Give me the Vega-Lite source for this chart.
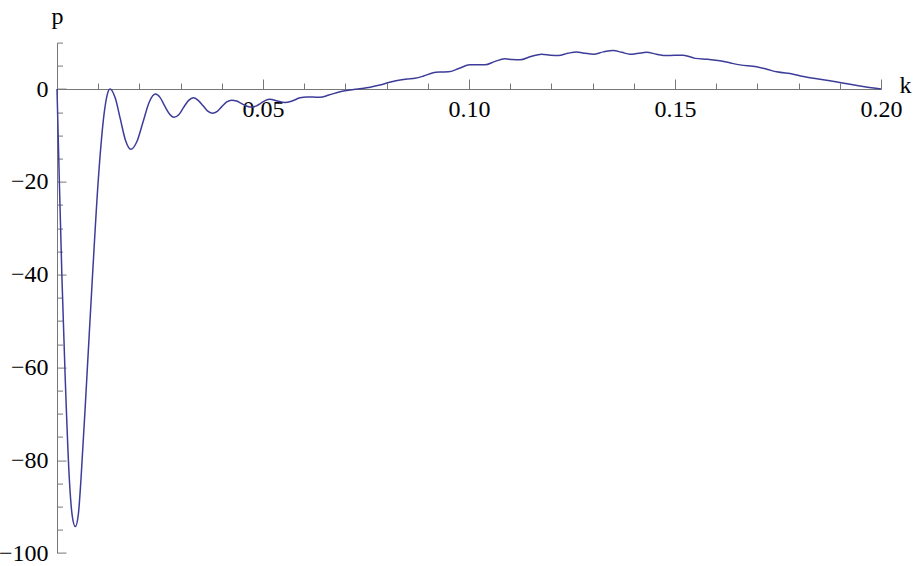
{
  "$schema": "https://vega.github.io/schema/vega-lite/v6.json",
  "width": 824,
  "height": 510.4,
  "autosize": {"type": "none"},
  "padding": {"left": 57, "top": 42.6, "right": 32, "bottom": 13},
  "background": "white",
  "config": {
    "view": {"stroke": null},
    "axis": {
      "grid": false,
      "labelFont": "Liberation Serif",
      "titleFont": "Liberation Serif",
      "labelFontSize": 24,
      "titleFontSize": 24,
      "labelColor": "black",
      "titleColor": "black",
      "titleFontWeight": "normal",
      "domainColor": "#777777",
      "tickColor": "#777777",
      "domainWidth": 1,
      "tickWidth": 1,
      "labelOverlap": false,
      "labelFlush": false
    }
  },
  "data": {
    "values": [
      {"k": 0, "p": 0},
      {"k": 0.00056, "p": -19.6},
      {"k": 0.00121, "p": -41},
      {"k": 0.00201, "p": -62.7},
      {"k": 0.00299, "p": -84},
      {"k": 0.0037, "p": -92},
      {"k": 0.00444, "p": -94.3},
      {"k": 0.0052, "p": -91.5},
      {"k": 0.00583, "p": -84},
      {"k": 0.00721, "p": -62.7},
      {"k": 0.00857, "p": -41},
      {"k": 0.01002, "p": -19.6},
      {"k": 0.01148, "p": -5},
      {"k": 0.0122, "p": -1.2},
      {"k": 0.01286, "p": 0},
      {"k": 0.01412, "p": -1.9},
      {"k": 0.01538, "p": -6.5},
      {"k": 0.01664, "p": -11.1},
      {"k": 0.0179, "p": -13},
      {"k": 0.0194, "p": -11.3},
      {"k": 0.0209, "p": -7.05},
      {"k": 0.0224, "p": -2.8},
      {"k": 0.0239, "p": -1.1},
      {"k": 0.025, "p": -1.8},
      {"k": 0.0261, "p": -3.6},
      {"k": 0.0273, "p": -5.4},
      {"k": 0.0284, "p": -6.1},
      {"k": 0.0296, "p": -5.5},
      {"k": 0.0307, "p": -4.0},
      {"k": 0.0319, "p": -2.5},
      {"k": 0.0331, "p": -1.9},
      {"k": 0.0342, "p": -2.4},
      {"k": 0.0354, "p": -3.55},
      {"k": 0.0365, "p": -4.7},
      {"k": 0.0377, "p": -5.2},
      {"k": 0.0389, "p": -4.8},
      {"k": 0.04, "p": -3.8},
      {"k": 0.0412, "p": -2.8},
      {"k": 0.0424, "p": -2.4},
      {"k": 0.0436, "p": -2.6},
      {"k": 0.0448, "p": -3.15},
      {"k": 0.0461, "p": -3.7},
      {"k": 0.0473, "p": -3.9},
      {"k": 0.0484, "p": -3.65},
      {"k": 0.0495, "p": -3.05},
      {"k": 0.0506, "p": -2.45},
      {"k": 0.0517, "p": -2.2},
      {"k": 0.0535, "p": -2.6},
      {"k": 0.0553, "p": -2.9},
      {"k": 0.057, "p": -2.6},
      {"k": 0.059, "p": -1.9},
      {"k": 0.0606, "p": -1.7},
      {"k": 0.0622, "p": -1.75},
      {"k": 0.0638, "p": -1.8},
      {"k": 0.066, "p": -1.3},
      {"k": 0.0687, "p": -0.6},
      {"k": 0.0731, "p": 0},
      {"k": 0.076, "p": 0.4},
      {"k": 0.0784, "p": 0.86},
      {"k": 0.081, "p": 1.5},
      {"k": 0.0833, "p": 1.94},
      {"k": 0.085, "p": 2.15},
      {"k": 0.0869, "p": 2.3},
      {"k": 0.089, "p": 2.8},
      {"k": 0.0913, "p": 3.5},
      {"k": 0.093, "p": 3.65},
      {"k": 0.095, "p": 3.7},
      {"k": 0.0975, "p": 4.4},
      {"k": 0.1002, "p": 5.2},
      {"k": 0.102, "p": 5.2},
      {"k": 0.1039, "p": 5.2},
      {"k": 0.1062, "p": 5.9},
      {"k": 0.1087, "p": 6.5},
      {"k": 0.1105, "p": 6.35},
      {"k": 0.1124, "p": 6.3},
      {"k": 0.115, "p": 7.0},
      {"k": 0.1176, "p": 7.5},
      {"k": 0.1197, "p": 7.3},
      {"k": 0.1217, "p": 7.2},
      {"k": 0.124, "p": 7.7},
      {"k": 0.1261, "p": 8.0},
      {"k": 0.1282, "p": 7.7},
      {"k": 0.1302, "p": 7.5},
      {"k": 0.1326, "p": 8.0},
      {"k": 0.135, "p": 8.3},
      {"k": 0.1371, "p": 7.9},
      {"k": 0.1391, "p": 7.5},
      {"k": 0.1411, "p": 7.7},
      {"k": 0.1431, "p": 7.9},
      {"k": 0.1455, "p": 7.5},
      {"k": 0.148, "p": 7.2},
      {"k": 0.152, "p": 7.3},
      {"k": 0.1549, "p": 6.6},
      {"k": 0.158, "p": 6.4},
      {"k": 0.1609, "p": 6.1},
      {"k": 0.1635, "p": 5.6},
      {"k": 0.1658, "p": 5.2},
      {"k": 0.1698, "p": 4.8},
      {"k": 0.1725, "p": 4.2},
      {"k": 0.1747, "p": 3.7},
      {"k": 0.1787, "p": 3.2},
      {"k": 0.1812, "p": 2.7},
      {"k": 0.1836, "p": 2.3},
      {"k": 0.1876, "p": 1.8},
      {"k": 0.19, "p": 1.4},
      {"k": 0.1925, "p": 1.0},
      {"k": 0.196, "p": 0.5},
      {"k": 0.2, "p": 0}
    ]
  },
  "mark": {"type": "line", "color": "#3d3d99", "strokeWidth": 1.5, "interpolate": "monotone", "clip": false},
  "encoding": {
    "x": {
      "field": "k",
      "type": "quantitative",
      "scale": {"domain": [0, 0.2], "nice": false, "zero": false},
      "axis": {
        "orient": "bottom",
        "offset": -464,
        "values": [0.01, 0.02, 0.03, 0.04, 0.05, 0.06, 0.07, 0.08, 0.09, 0.1, 0.11, 0.12, 0.13, 0.14, 0.15, 0.16, 0.17, 0.18, 0.19, 0.2],
        "labelExpr": "abs(datum.value * 20 - round(datum.value * 20)) < 0.001 ? format(datum.value, '.2f') : ''",
        "tickSize": {"condition": {"test": "abs(datum.value * 20 - round(datum.value * 20)) < 0.001", "value": -10}, "value": -6},
        "labelPadding": 18.5,
        "title": "k",
        "titleAngle": 0,
        "titleAlign": "center",
        "titleBaseline": "alphabetic",
        "titleX": 848,
        "titleY": 3
      }
    },
    "y": {
      "field": "p",
      "type": "quantitative",
      "scale": {"domain": [-100, 10], "nice": false, "zero": false},
      "axis": {
        "orient": "left",
        "values": [-100, -95, -90, -85, -80, -75, -70, -65, -60, -55, -50, -45, -40, -35, -30, -25, -20, -15, -10, -5, 0, 5, 10],
        "labelExpr": "datum.value % 20 === 0 ? format(datum.value, 'd') : ''",
        "tickSize": {"condition": {"test": "datum.value % 20 === 0", "value": -9}, "value": -5.5},
        "labelPadding": 18,
        "title": "p",
        "titleAngle": 0,
        "titleAlign": "center",
        "titleBaseline": "alphabetic",
        "titleX": 0,
        "titleY": -19
      }
    }
  }
}
